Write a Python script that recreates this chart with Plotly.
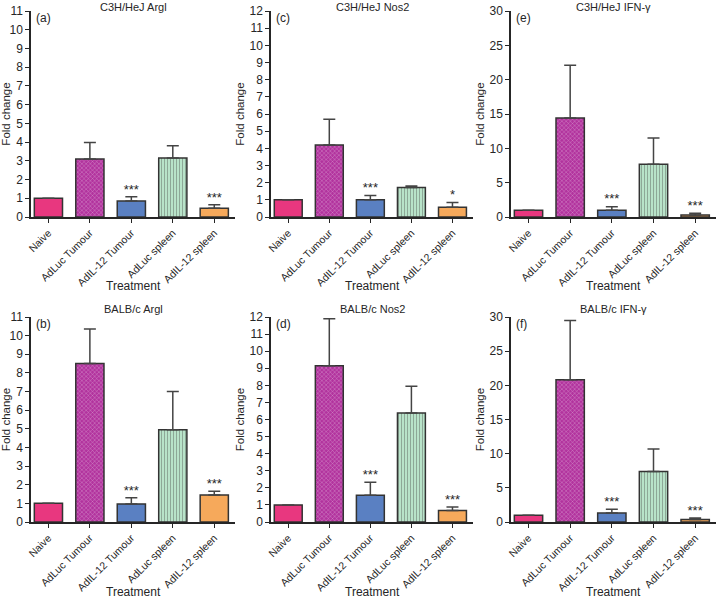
import plotly.graph_objects as go
from plotly.subplots import make_subplots

# categories shared by all panels
treatments = ["Naive", "AdLuc Tumour", "AdIL-12 Tumour", "AdLuc spleen", "AdIL-12 spleen"]

# panel values (means) and upper error (SEM)
c3h_argl = [1.0, 3.1, 0.85, 3.15, 0.47]
c3h_argl_err = [0.0, 0.88, 0.23, 0.65, 0.18]
c3h_nos2 = [1.0, 4.2, 1.0, 1.72, 0.57]
c3h_nos2_err = [0.0, 1.5, 0.25, 0.08, 0.28]
c3h_ifng = [1.0, 14.4, 1.0, 7.7, 0.3]
c3h_ifng_err = [0.0, 7.7, 0.5, 3.8, 0.25]

balb_argl = [1.0, 8.5, 0.97, 4.95, 1.45]
balb_argl_err = [0.0, 1.85, 0.33, 2.05, 0.2]
balb_nos2 = [1.0, 9.15, 1.57, 6.38, 0.67]
balb_nos2_err = [0.0, 2.75, 0.75, 1.57, 0.21]
balb_ifng = [1.0, 20.8, 1.3, 7.4, 0.35]
balb_ifng_err = [0.0, 8.7, 0.55, 3.3, 0.25]

# significance marks above the bars
stars_default = ["", "", "***", "", "***"]
stars_c3h_nos2 = ["", "", "***", "", "*"]

bar_colors = ["#E8377F", "#B2339E", "#5A80C2", "#B8E3C9", "#F6A95B"]
pattern_shapes = ["", "x", "", "|", ""]
pattern_colors = ["#E8377F", "#9A2A8A", "#5A80C2", "#A8D9BC", "#F6A95B"]

panels = [
    # (row, col, title, letter, values, errors, stars, ymax, dtick)
    (1, 1, "C3H/HeJ Argl", "(a)", c3h_argl, c3h_argl_err, stars_default, 11, 1),
    (1, 2, "C3H/HeJ Nos2", "(c)", c3h_nos2, c3h_nos2_err, stars_c3h_nos2, 12, 1),
    (1, 3, "C3H/HeJ IFN-\u03b3", "(e)", c3h_ifng, c3h_ifng_err, stars_default, 30, 5),
    (2, 1, "BALB/c Argl", "(b)", balb_argl, balb_argl_err, stars_default, 11, 1),
    (2, 2, "BALB/c Nos2", "(d)", balb_nos2, balb_nos2_err, stars_default, 12, 1),
    (2, 3, "BALB/c IFN-\u03b3", "(f)", balb_ifng, balb_ifng_err, stars_default, 30, 5),
]

W, H = 720, 599


def px_x(p):
    return p / W


def px_y(p):
    return 1 - p / H


x_domains = [[px_x(31), px_x(235)], [px_x(271), px_x(473)], [px_x(511), px_x(716)]]
y_domains = [[px_y(217), px_y(11)], [px_y(522), px_y(317)]]
title_y = [px_y(7), px_y(309)]
xlabel_y = [px_y(286), px_y(592)]

fig = make_subplots(rows=2, cols=3)
font_family = "Liberation Sans, Arial, sans-serif"
ink = "#262626"

for row, col, title, letter, vals, errs, stars, ymax, dtick in panels:
    fig.add_trace(go.Bar(
        x=treatments,
        y=vals,
        width=0.68,
        marker=dict(
            color=bar_colors,
            line=dict(color="#333333", width=1.5),
            pattern=dict(shape=pattern_shapes, fgcolor=pattern_colors,
                         size=3, solidity=0.25),
        ),
        error_y=dict(type="data", symmetric=False, array=errs,
                     arrayminus=[0] * len(errs), color="#444444",
                     thickness=1.5, width=6),
        showlegend=False,
    ), row=row, col=col)

    tops = [v + e for v, e in zip(vals, errs)]
    fig.add_trace(go.Scatter(
        x=treatments, y=tops, mode="text", text=stars,
        textposition="top center",
        textfont=dict(size=13, color=ink, family=font_family),
        showlegend=False, hoverinfo="skip",
    ), row=row, col=col)

    fig.update_xaxes(
        domain=x_domains[col - 1], range=[-0.42, 4.5],
        tickangle=-45, ticks="outside", ticklen=4, tickcolor=ink,
        showline=True, linecolor=ink, linewidth=1.5, automargin=False,
        tickfont=dict(size=10.5, color=ink, family=font_family),
        showgrid=False, zeroline=False,
        row=row, col=col)
    fig.update_yaxes(
        domain=y_domains[row - 1], range=[0, ymax], dtick=dtick,
        ticks="outside", ticklen=4, tickcolor=ink,
        showline=True, linecolor=ink, linewidth=1.5, automargin=False,
        tickfont=dict(size=12, color=ink, family=font_family),
        title=dict(text="Fold change", font=dict(size=11.5, color=ink, family=font_family),
                   standoff=2),
        showgrid=False, zeroline=False,
        row=row, col=col)

    idx = (row - 1) * 3 + col
    suffix = "" if idx == 1 else str(idx)
    fig.add_annotation(
        text=title, xref=f"x{suffix} domain", yref="paper",
        x=0.5, y=title_y[row - 1], showarrow=False, yanchor="middle",
        font=dict(size=11, color=ink, family=font_family))
    fig.add_annotation(
        text="Treatment", xref=f"x{suffix} domain", yref="paper",
        x=0.5, y=xlabel_y[row - 1], showarrow=False, yanchor="middle",
        font=dict(size=12, color=ink, family=font_family))
    fig.add_annotation(
        text=letter, xref=f"x{suffix} domain", yref=f"y{suffix} domain",
        x=0.015, y=1.01, showarrow=False, xanchor="left", yanchor="top",
        font=dict(size=12, color=ink, family=font_family))

fig.update_layout(
    width=W, height=H,
    margin=dict(l=0, r=0, t=0, b=0),
    plot_bgcolor="white", paper_bgcolor="white",
    bargap=0.3,
)

# drop the browser's default page margin so the figure sits at the window corner
fig.write_html("out.html", config={"displayModeBar": False},
               post_script="document.body.style.margin='0';")
